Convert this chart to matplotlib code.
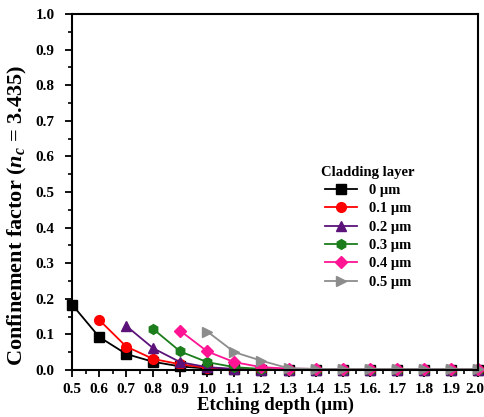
import matplotlib
matplotlib.use("Agg")
import matplotlib.pyplot as plt
from matplotlib.ticker import MultipleLocator
from matplotlib.transforms import ScaledTranslation

plt.rcParams['font.family'] = ['Liberation Serif', 'DejaVu Serif']
plt.rcParams['mathtext.fontset'] = 'custom'
plt.rcParams['mathtext.it'] = 'Liberation Serif:italic:bold'
plt.rcParams['mathtext.rm'] = 'Liberation Serif:bold'

depth = [0.5, 0.6, 0.7, 0.8, 0.9, 1.0, 1.1, 1.2, 1.3, 1.4, 1.5, 1.6, 1.7, 1.8, 1.9, 2.0]
x_labels = ['0.5', '0.6', '0.7', '0.8', '0.9', '1.0', '1.1', '1.2', '1.3', '1.4',
            '1.5', '1.6.', '1.7', '1.8', '1.9', '2.0']

cf_0 = [0.184, 0.093, 0.045, 0.023, 0.010, 0.004, 0.002, 0.001, 0.0, 0.0, 0.0, 0.0, 0.0, 0.0, 0.0, 0.0]
cf_01 = [0.141, 0.066, 0.031, 0.016, 0.006, 0.002, 0.001, 0.0, 0.0, 0.0, 0.0, 0.0, 0.0, 0.0, 0.0]
cf_02 = [0.124, 0.061, 0.022, 0.008, 0.003, 0.001, 0.0, 0.0, 0.0, 0.0, 0.0, 0.0, 0.0, 0.0]
cf_03 = [0.115, 0.052, 0.022, 0.008, 0.003, 0.001, 0.0, 0.0, 0.0, 0.0, 0.0, 0.0, 0.0]
cf_04 = [0.110, 0.052, 0.022, 0.008, 0.004, 0.003, 0.003, 0.003, 0.003, 0.003, 0.003, 0.003]
cf_05 = [0.108, 0.050, 0.026, 0.005, 0.003, 0.003, 0.003, 0.003, 0.003, 0.003, 0.003]

series = [
    ('0 µm', cf_0, 's', '#000000'),
    ('0.1 µm', cf_01, 'o', '#ff0000'),
    ('0.2 µm', cf_02, '^', '#5b1279'),
    ('0.3 µm', cf_03, 'h', '#1b7d1b'),
    ('0.4 µm', cf_04, 'D', '#ff1493'),
    ('0.5 µm', cf_05, '>', '#8c8c8c'),
]

fig = plt.figure(figsize=(4.85, 4.17), dpi=100)
ax = fig.add_axes([0.1485, 0.1127, 0.8371, 0.8537])

for label, vals, mk, col in series:
    xs = depth[len(depth) - len(vals):]
    ms = 6 if mk == 'D' else 7
    ax.plot(xs, vals, marker=mk, color=col, markersize=ms, linewidth=1.3,
            label=label, clip_on=False)

ax.set_xlim(0.5, 2.0)
ax.set_ylim(0.0, 1.0)
ax.set_xticks(depth)
ax.set_xticklabels(x_labels)
ax.yaxis.set_major_locator(MultipleLocator(0.1))
ax.yaxis.set_minor_locator(MultipleLocator(0.05))
ax.xaxis.set_minor_locator(MultipleLocator(0.05))
ax.yaxis.set_major_formatter(plt.FormatStrFormatter('%.1f'))
ax.tick_params(which='major', direction='out', length=5, width=1.3, labelsize=11)
ax.tick_params(axis='y', pad=7.5)
ax.tick_params(axis='x', pad=4.5)
ax.tick_params(which='minor', direction='out', length=3, width=1.2)
for t in ax.get_xticklabels() + ax.get_yticklabels():
    t.set_fontweight('bold')
last = ax.get_xticklabels()[-1]
last.set_transform(last.get_transform() + ScaledTranslation(-2.5 / 72, 0, fig.dpi_scale_trans))
for s in ax.spines.values():
    s.set_linewidth(1.5)

ax.set_xlabel('Etching depth (µm)', fontsize=13.5, fontweight='bold', labelpad=0)
ax.set_ylabel(r'Confinement factor ($n_c$ = 3.435)', fontsize=16, fontweight='bold')
ax.yaxis.set_label_coords(-0.105, 0.435)

leg = ax.legend(loc='upper left', bbox_to_anchor=(0.6, 0.59), frameon=False,
                title='Cladding layer', prop={'weight': 'bold', 'size': 10.5},
                handlelength=2.2, labelspacing=0.35, borderaxespad=0)
leg.get_title().set_fontweight('bold')
leg.get_title().set_fontsize(10.5)

fig.savefig('out.png', dpi=100)
